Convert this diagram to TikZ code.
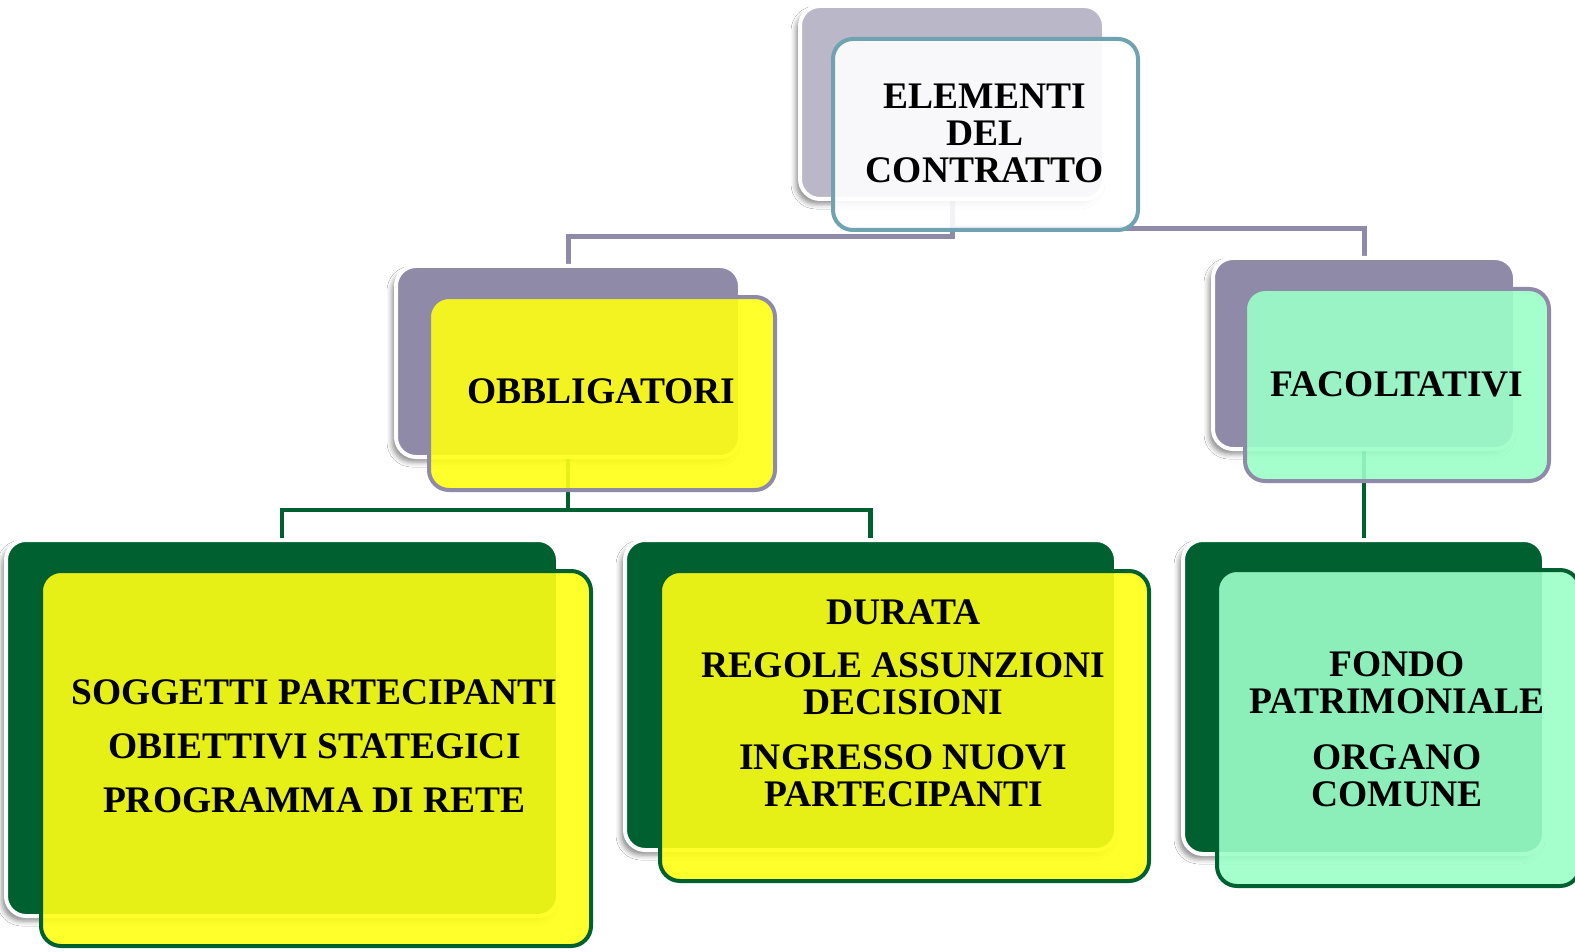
\documentclass[tikz,border=0pt]{standalone}
\usepackage{fontspec}
\setmainfont{Liberation Serif}
\usetikzlibrary{backgrounds,shadows.blur}
\definecolor{lav}{RGB}{142,138,168}
\definecolor{lavlight}{RGB}{186,183,200}
\definecolor{tealb}{RGB}{111,163,177}
\definecolor{dkgreen}{RGB}{0,96,48}
\definecolor{mint}{RGB}{156,255,200}
\definecolor{yel}{RGB}{255,255,20}
\tikzset{
  backbox/.style={rounded corners=20pt, draw=white, line width=4pt, inner sep=0pt, outer sep=0pt,
    blur shadow={shadow xshift=-4pt, shadow yshift=-5pt, shadow blur radius=5pt, shadow opacity=45}},
  frontbox/.style={rounded corners=20pt, line width=4pt, inner sep=0pt, outer sep=0pt, fill opacity=0.9},
  txt/.style={align=center, font=\fontsize{37.5}{37}\selectfont\bfseries, text=black, inner sep=0pt},
  lavline/.style={draw=lav, line width=5pt},
  grnline/.style={draw=dkgreen, line width=4.5pt},
}
\begin{document}
\begin{tikzpicture}[x=1pt,y=-1pt]
\useasboundingbox (0,0) rectangle (1575,952);
% back boxes
\node[backbox, fill=lavlight, minimum width=304pt, minimum height=193pt] (topb) at (952,102.5) {};
\node[backbox, fill=lav, minimum width=344pt, minimum height=191pt] (oblb) at (568,361.5) {};
\node[backbox, fill=lav, minimum width=302pt, minimum height=191pt] (facb) at (1364,353.5) {};
\node[backbox, fill=dkgreen, minimum width=552pt, minimum height=376pt] (blb) at (282,728) {};
\node[backbox, fill=dkgreen, minimum width=491pt, minimum height=310pt] (bmb) at (870.5,695) {};
\node[backbox, fill=dkgreen, minimum width=361pt, minimum height=314pt] (brb) at (1363.5,697) {};
% front boxes
\node[frontbox, draw=tealb, fill=white, minimum width=305pt, minimum height=191pt] (topf) at (985.5,134.5) {};
\node[frontbox, draw=lav, fill=yel, minimum width=346pt, minimum height=193pt] (oblf) at (602,393.5) {};
\node[frontbox, draw=lav, fill=mint, minimum width=304pt, minimum height=192pt] (facf) at (1397,385) {};
\node[frontbox, draw=dkgreen, fill=yel, minimum width=550pt, minimum height=375pt] (blf) at (316,758.5) {};
\node[frontbox, draw=dkgreen, fill=yel, minimum width=489pt, minimum height=310pt] (bmf) at (904.5,726) {};
\node[frontbox, draw=dkgreen, fill=mint, minimum width=363pt, minimum height=316pt] (brf) at (1398.5,728) {};
% texts
\node[txt] (t1) at (985,133.5) {ELEMENTI\\DEL\\CONTRATTO};
\node[txt] (t2) at (601.5,391) {OBBLIGATORI};
\node[txt] (t3) at (1397,384.5) {FACOLTATIVI};
\node[txt] (t4) at (314.5,746) {SOGGETTI PARTECIPANTI\\[17pt]OBIETTIVI STATEGICI\\[17pt]PROGRAMMA DI RETE};
\node[txt] (t5) at (903.5,703) {DURATA\\[16pt]REGOLE ASSUNZIONI\\DECISIONI\\[18pt]INGRESSO NUOVI\\PARTECIPANTI};
\node[txt] (t6) at (1397,729.5) {FONDO\\PATRIMONIALE\\[19pt]ORGANO\\COMUNE};
% connectors
\begin{scope}[on background layer]
\fill[white] (0,0) rectangle (1575,952);
\draw[lavline] (topb.south) -- ++(0,38) -| (oblb.north);
\draw[lavline] (topb.south) -- ++(0,30) -| (facb.north);
\draw[grnline] (oblb.south) -- ++(0,53) -| (blb.north);
\draw[grnline] (oblb.south) -- ++(0,53) -| (bmb.north);
\draw[grnline] (facb.south) -- (facb.south |- brb.north);
\end{scope}
\end{tikzpicture}
\end{document}
